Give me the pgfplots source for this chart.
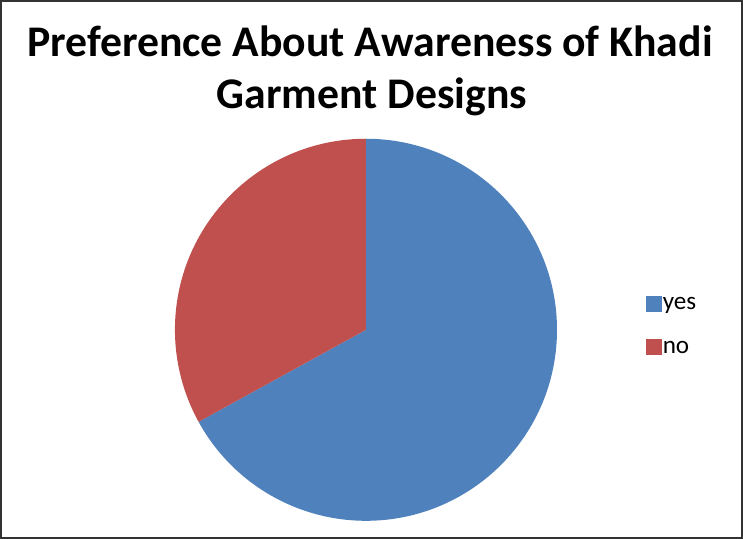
\documentclass[border=0pt]{standalone}
\usepackage{pgfplots}
\pgfplotsset{compat=1.18}
\usepackage{pgfplotstable}
\usepackage{fontspec}
\setmainfont{Carlito}
\definecolor{pieBlue}{HTML}{4F81BD}
\definecolor{pieRed}{HTML}{C0504D}
% share of answers (per cent)
\pgfplotstableread{
label value
yes 67
no 33
}\piedata
\begin{document}
\begin{tikzpicture}
\pgfplotstablegetelem{0}{value}\of\piedata \let\yesval\pgfplotsretval
\pgfplotstablegetelem{1}{value}\of\piedata \let\noval\pgfplotsretval
\pgfmathsetmacro\pieTotal{\yesval+\noval}
\pgfmathsetmacro\pieSplit{90+360*\noval/\pieTotal}
\begin{axis}[
    x=1pt, y=1pt,
    xmin=0, xmax=743, ymin=0, ymax=540,
    axis lines=none,
    scale only axis,
    clip=false,
    legend style={draw=none, fill=none, at={(axis cs:644,249)}, anchor=north west,
        font=\fontsize{25}{28}\selectfont, row sep=17pt, inner sep=0pt,
        nodes={inner sep=1pt, text height=18pt, text depth=6pt}},
    legend cell align=left,
    legend image code/.code={\fill[#1,draw=none] (0pt,-8pt) rectangle (16pt,8pt);},
]
\addlegendimage{fill=pieBlue}
\addlegendentry{yes}
\addlegendimage{fill=pieRed}
\addlegendentry{no}

% frame
\draw[line width=2pt, black!80] (axis cs:3,3) rectangle (axis cs:740,537);

% title
\node[font=\bfseries\fontsize{43.5}{48}\selectfont, anchor=base] at (axis cs:370,482)
    {Preference About Awareness of Khadi};
\node[font=\bfseries\fontsize{43.5}{48}\selectfont, anchor=base] at (axis cs:372,430)
    {Garment Designs};

% slices
\fill[pieBlue] (axis cs:366,210) -- ++(90:190pt)
    arc[start angle=90, end angle=\pieSplit-360, radius=190pt] -- cycle;
\fill[pieRed] (axis cs:366,210) -- ++(90:190pt)
    arc[start angle=90, end angle=\pieSplit, radius=190pt] -- cycle;
\end{axis}
\end{tikzpicture}
\end{document}
